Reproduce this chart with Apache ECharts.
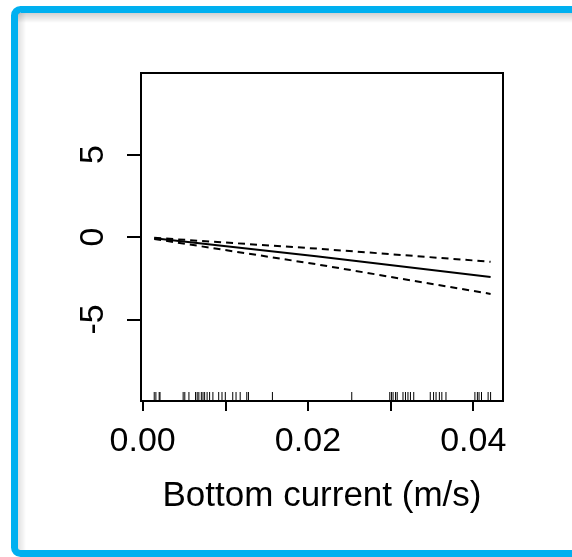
<!DOCTYPE html>
<html>
<head>
<meta charset="utf-8">
<script src="https://cdn.jsdelivr.net/npm/echarts@6/dist/echarts.min.js"></script>
<style>
  html, body { margin: 0; padding: 0; background: #fff; }
  #main { width: 572px; height: 557px; }
</style>
</head>
<body>
<div id="main"></div>
<script>
// smooth term for bottom current, with its two confidence bands
const xs = [0.0014, 0.021, 0.0421];
const fit = [-0.08, -1.17, -2.42];
const upper = [-0.05, -0.7, -1.5];
const lower = [-0.12, -1.65, -3.45];

// rug of observed bottom current values
const rug = [
  0.0014, 0.0016, 0.0020, 0.0021, 0.0049, 0.0051, 0.0056, 0.0064, 0.0066,
  0.0068, 0.0071, 0.0073, 0.0075, 0.0078, 0.0081, 0.0085, 0.0092, 0.0096,
  0.0100, 0.0109, 0.0113, 0.0118, 0.0126, 0.0128, 0.0157, 0.0253, 0.0299,
  0.0301, 0.0303, 0.0306, 0.0308, 0.0315, 0.0318, 0.0321, 0.0324, 0.0328,
  0.0348, 0.0352, 0.0355, 0.0359, 0.0362, 0.0367, 0.0402, 0.0405, 0.0407,
  0.0410, 0.0418, 0.0421
];

const xTicks = [0, 0.01, 0.02, 0.03, 0.04];
const xLabels = [0, 0.02, 0.04];
const yTicks = [-5, 0, 5];

const font = '"Liberation Sans", Arial, sans-serif';
const pair = (a, b) => a.map((v, i) => [v, b[i]]);

const chart = echarts.init(document.getElementById('main'));

chart.setOption({
  animation: false,
  graphic: [
    // inner shadow strips
    {
      type: 'rect', shape: { x: 18, y: 13, width: 560, height: 10 },
      style: { fill: new echarts.graphic.LinearGradient(0, 0, 0, 1, [
        { offset: 0, color: 'rgba(0,0,0,0.18)' }, { offset: 1, color: 'rgba(0,0,0,0)' }]) },
      silent: true
    },
    {
      type: 'rect', shape: { x: 18, y: 13, width: 8, height: 538 },
      style: { fill: new echarts.graphic.LinearGradient(0, 0, 1, 0, [
        { offset: 0, color: 'rgba(0,0,0,0.12)' }, { offset: 1, color: 'rgba(0,0,0,0)' }]) },
      silent: true
    },
    // blue frame
    {
      type: 'rect',
      shape: { x: 14.5, y: 9.5, width: 600, height: 544, r: 6 },
      style: { fill: 'none', stroke: '#00b0f0', lineWidth: 7 },
      silent: true
    }
  ],
  grid: {
    left: 141, top: 73, width: 362, height: 328,
    show: true, borderColor: '#000', borderWidth: 2, backgroundColor: 'transparent'
  },
  xAxis: {
    type: 'value',
    min: -0.0002, max: 0.0436,
    name: 'Bottom current (m/s)',
    nameLocation: 'middle',
    nameGap: 78,
    nameTextStyle: { color: '#000', fontSize: 35, fontFamily: font },
    axisLine: { show: false, onZero: false },
    splitLine: { show: false },
    axisTick: {
      show: true, inside: false, length: 10, customValues: xTicks,
      lineStyle: { color: '#000', width: 2 }
    },
    axisLabel: {
      customValues: xLabels, margin: 24,
      color: '#000', fontSize: 34, fontFamily: font,
      formatter: v => v.toFixed(2)
    }
  },
  yAxis: {
    type: 'value',
    min: -9.94, max: 9.94,
    axisLine: { show: false, onZero: false },
    splitLine: { show: false },
    axisTick: {
      show: true, length: 14, customValues: yTicks,
      lineStyle: { color: '#000', width: 2 }
    },
    axisLabel: {
      customValues: yTicks, rotate: 90, margin: 30,
      color: '#000', fontSize: 34, fontFamily: font
    }
  },
  series: [
    {
      type: 'line', data: pair(xs, fit), symbol: 'none',
      lineStyle: { color: '#000', width: 2 }
    },
    {
      type: 'line', data: pair(xs, upper), symbol: 'none',
      lineStyle: { color: '#000', width: 2, type: [7, 5] }
    },
    {
      type: 'line', data: pair(xs, lower), symbol: 'none',
      lineStyle: { color: '#000', width: 2, type: [7, 5] }
    },
    {
      type: 'custom',
      data: rug.map(v => [v]),
      renderItem: (params, api) => {
        const p = api.coord([api.value(0), -9.94]);
        return {
          type: 'line',
          shape: { x1: p[0], y1: p[1], x2: p[0], y2: p[1] - 9 },
          style: { stroke: '#000', lineWidth: 1 }
        };
      }
    }
  ]
});
</script>
</body>
</html>
